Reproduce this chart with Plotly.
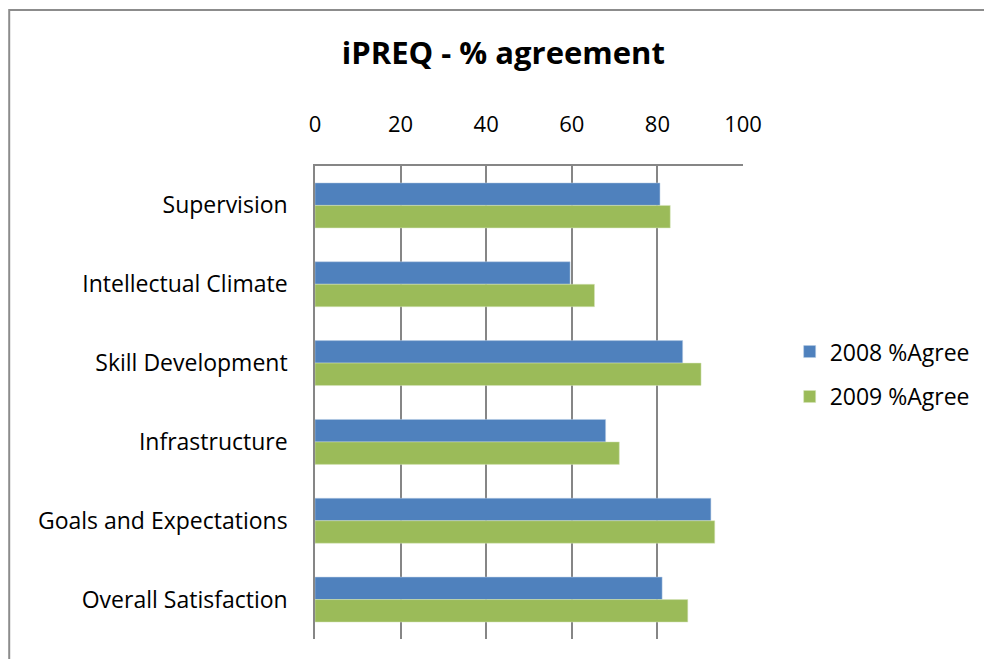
import plotly.graph_objects as go

categories = ["Supervision", "Intellectual Climate", "Skill Development",
              "Infrastructure", "Goals and Expectations", "Overall Satisfaction"]
agree_2008 = [80.6, 59.6, 85.9, 67.9, 92.5, 81.1]
agree_2009 = [83.0, 65.3, 90.2, 71.1, 93.4, 87.1]
x_ticks = [0, 20, 40, 60, 80, 100]

FONT = "Open Sans, sans-serif"
GRID = "#868686"

fig = go.Figure()
fig.add_trace(go.Bar(y=categories, x=agree_2008, orientation="h", name="2008 %Agree",
                     legendgroup="a",
                     marker=dict(color="#4F81BD", line=dict(color="#B9CDE5", width=0.5))))
fig.add_trace(go.Bar(y=categories, x=agree_2009, orientation="h", name="2009 %Agree",
                     legendgroup="b",
                     marker=dict(color="#9BBB59", line=dict(color="#D7E4BD", width=0.5))))

W, H = 984, 659
L, R, T, B = 315, 743.3, 166, 638.7
pw, ph = R - L, B - T

def px(xp):
    return (xp - L) / pw

def py(yp):
    return (B - yp) / ph

fig.update_layout(
    width=W, height=H,
    margin=dict(l=L, r=W - R, t=T, b=H - B, autoexpand=False),
    paper_bgcolor="white", plot_bgcolor="white",
    barmode="group", bargap=0.43, bargroupgap=0,
    font=dict(family=FONT, size=23, color="#000000"),
    title=dict(text="<b>iPREQ - % agreement</b>", x=px(503.5), xref="paper",
               xanchor="center", y=1 - 53 / H, yanchor="middle",
               font=dict(family=FONT, size=31, color="#000000")),
    showlegend=True,
    legend=dict(x=px(790), y=py(330), xanchor="left", yanchor="top",
                font=dict(family=FONT, size=23), traceorder="grouped",
                tracegroupgap=12, itemwidth=30, bgcolor="rgba(0,0,0,0)"),
    xaxis=dict(side="top", range=[0, 100], tickvals=x_ticks,
               showgrid=True, gridcolor=GRID, gridwidth=1.5,
               showline=True, linecolor=GRID, linewidth=1.5, mirror=False,
               zeroline=False, ticks="", ticklabelstandoff=23,
               tickfont=dict(family=FONT, size=22)),
    yaxis=dict(autorange="reversed", showgrid=False, showline=True,
               linecolor=GRID, linewidth=1.5, ticks="", ticklabelstandoff=21,
               tickfont=dict(family=FONT, size=23)),
    shapes=[dict(type="rect", xref="paper", yref="paper",
                 x0=px(9), x1=px(W + 20), y0=py(H + 20), y1=py(10),
                 line=dict(color="#8C8C8C", width=2), layer="below")],
)

fig.write_html(
    "out.html",
    config={"displayModeBar": False},
    post_script="document.body.style.margin='0';document.body.style.overflow='hidden';",
)
